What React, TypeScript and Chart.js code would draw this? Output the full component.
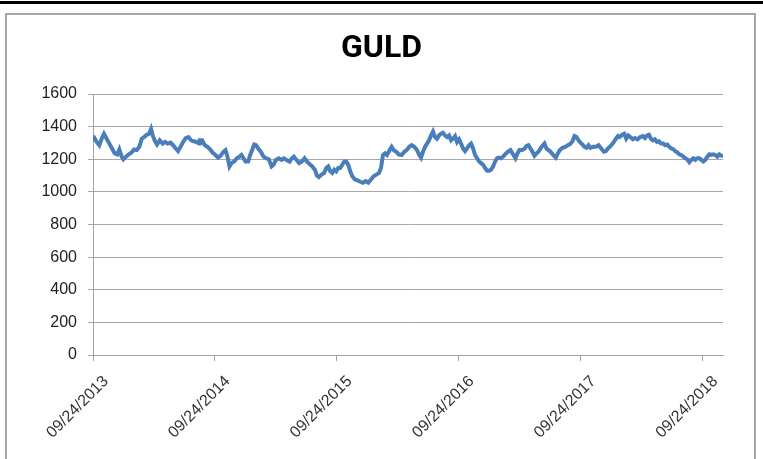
import React, { useEffect, useRef } from "react";
import { Chart, registerables } from "chart.js";

Chart.register(...registerables);

// Trading-day offsets (days since 09/24/2013) and gold price values
const dayOffsets: number[] = [
  0, 3, 11, 19, 26, 33, 41, 49, 57, 65, 73, 79, 86, 91, 99, 107, 115, 123, 131, 139,
  146, 153, 161, 168, 174, 179, 186, 192, 200, 209, 216, 224, 232, 240, 248, 255, 262, 270, 278, 286,
  294, 302, 310, 318, 320, 327, 335, 343, 351, 359, 367, 375, 383, 391, 397, 403, 409, 415, 423, 431,
  439, 445, 451, 457, 465, 471, 477, 483, 489, 495, 503, 511, 519, 527, 535, 541, 548, 557, 565, 572,
  580, 589, 596, 602, 610, 618, 626, 634, 641, 649, 657, 665, 671, 677, 685, 693, 699, 705, 711, 717,
  723, 729, 735, 741, 747, 753, 759, 765, 771, 777, 785, 793, 801, 809, 817, 825, 833, 841, 849, 857,
  863, 869, 875, 881, 889, 895, 901, 909, 916, 925, 933, 940, 948, 955, 963, 971, 978, 983, 989, 995,
  1001, 1007, 1013, 1019, 1025, 1031, 1037, 1043, 1049, 1055, 1061, 1067, 1073, 1079, 1085, 1091, 1097, 1103, 1109, 1115,
  1121, 1127, 1133, 1139, 1145, 1151, 1157, 1163, 1169, 1175, 1181, 1187, 1193, 1199, 1205, 1211, 1217, 1223, 1229, 1235,
  1243, 1251, 1260, 1266, 1272, 1278, 1286, 1294, 1299, 1305, 1311, 1317, 1323, 1329, 1335, 1341, 1347, 1353, 1359, 1365,
  1371, 1379, 1387, 1393, 1399, 1407, 1415, 1423, 1431, 1437, 1443, 1449, 1455, 1461, 1467, 1473, 1479, 1485, 1491, 1499,
  1507, 1515, 1523, 1531, 1537, 1543, 1549, 1555, 1561, 1567, 1573, 1578, 1586, 1592, 1598, 1604, 1610, 1618, 1624, 1632,
  1640, 1648, 1654, 1660, 1666, 1672, 1678, 1684, 1690, 1696, 1702, 1709, 1715, 1721, 1727, 1733, 1739, 1745, 1751, 1757,
  1763, 1769, 1775, 1781, 1787, 1793, 1799, 1805, 1811, 1817, 1823, 1829, 1835, 1841, 1847, 1853, 1859, 1865, 1871, 1877,
  1883, 1888,
];

const goldPrices: number[] = [
  1340, 1336, 1306, 1286, 1326, 1356, 1326, 1296, 1266, 1236, 1230, 1260, 1216, 1200, 1216, 1230, 1240, 1260, 1256, 1276,
  1326, 1336, 1350, 1356, 1386, 1346, 1310, 1290, 1316, 1296, 1306, 1296, 1302, 1286, 1266, 1250, 1276, 1306, 1330, 1336,
  1316, 1310, 1306, 1296, 1316, 1316, 1286, 1276, 1260, 1240, 1226, 1210, 1222, 1246, 1256, 1216, 1156, 1176, 1186, 1206,
  1216, 1226, 1206, 1186, 1186, 1226, 1256, 1290, 1286, 1266, 1246, 1216, 1206, 1200, 1156, 1166, 1196, 1206, 1196, 1206,
  1196, 1186, 1206, 1216, 1196, 1176, 1186, 1206, 1186, 1170, 1156, 1136, 1100, 1090, 1106, 1116, 1146, 1156, 1126, 1116,
  1136, 1126, 1146, 1146, 1166, 1186, 1186, 1166, 1126, 1096, 1076, 1070, 1062, 1056, 1066, 1056, 1076, 1096, 1106, 1116,
  1146, 1226, 1236, 1226, 1256, 1276, 1256, 1246, 1230, 1226, 1246, 1256, 1276, 1286, 1276, 1256, 1226, 1210, 1246, 1276,
  1296, 1316, 1346, 1370, 1336, 1326, 1346, 1356, 1362, 1346, 1336, 1346, 1316, 1326, 1342, 1306, 1322, 1296, 1266, 1250,
  1266, 1286, 1296, 1266, 1226, 1206, 1186, 1176, 1166, 1146, 1130, 1130, 1136, 1156, 1186, 1206, 1210, 1206, 1216, 1230,
  1246, 1256, 1226, 1206, 1236, 1256, 1256, 1266, 1282, 1286, 1266, 1246, 1222, 1236, 1246, 1266, 1282, 1296, 1266, 1256,
  1246, 1226, 1210, 1236, 1256, 1270, 1276, 1286, 1296, 1310, 1342, 1336, 1316, 1302, 1290, 1276, 1270, 1286, 1270, 1276,
  1276, 1286, 1266, 1246, 1250, 1266, 1276, 1290, 1306, 1326, 1342, 1336, 1350, 1356, 1326, 1346, 1336, 1322, 1330, 1322,
  1336, 1342, 1330, 1346, 1350, 1326, 1316, 1322, 1306, 1310, 1296, 1296, 1286, 1290, 1276, 1266, 1262, 1250, 1242, 1230,
  1226, 1216, 1206, 1200, 1182, 1196, 1206, 1196, 1206, 1206, 1196, 1186, 1196, 1216, 1230, 1226, 1230, 1226, 1216, 1230,
  1222, 1216,
];

// Axis tick labels (x ticks at these day offsets)
const xTickDays: number[] = [0, 365, 730, 1096, 1461, 1826];
const xTickLabels: string[] = ["09/24/2013", "09/24/2014", "09/24/2015", "09/24/2016", "09/24/2017", "09/24/2018"];
const xMaxDay = 1888;
const yMin = 0;
const yMax = 1600;
const yStep = 200;
const chartTitle = "GULD";

export default function App() {
  const canvasRef = useRef<HTMLCanvasElement | null>(null);

  useEffect(() => {
    if (!canvasRef.current) return;
    const points = dayOffsets.map((d, i) => ({ x: d, y: goldPrices[i] }));
    const font = "'Liberation Sans', Arial, sans-serif";
    const chart = new Chart(canvasRef.current, {
      type: "line",
      data: {
        datasets: [
          {
            label: chartTitle,
            data: points,
            borderColor: "#4A7EBB",
            backgroundColor: "#4A7EBB",
            borderWidth: 4,
            pointRadius: 0,
            tension: 0,
          },
        ],
      },
      options: {
        animation: false,
        responsive: false,
        maintainAspectRatio: false,
        layout: { padding: { left: 0, right: 0, top: 0, bottom: 0 } },
        plugins: {
          legend: { display: false },
          tooltip: { enabled: false },
          title: {
            display: true,
            text: chartTitle,
            color: "#000",
            font: { family: "Roboto, 'Liberation Sans', sans-serif", size: 32, weight: "bold", lineHeight: 1.2 },
            padding: { top: 30, bottom: 25.6 },
          },
        },
        scales: {
          x: {
            type: "linear",
            min: 0,
            max: xMaxDay,
            afterBuildTicks: (scale: any) => {
              scale.ticks = xTickDays.map((v) => ({ value: v }));
            },
            afterFit: (scale: any) => {
              scale.height = 104;
            },
            ticks: {
              autoSkip: false,
              maxRotation: 45,
              minRotation: 45,
              color: "#333",
              padding: 11,
              labelOffset: 13,
              font: { family: font, size: 16 },
              callback: (value: any) => {
                const idx = xTickDays.indexOf(Number(value));
                return idx >= 0 ? xTickLabels[idx] : "";
              },
            },
            grid: {
              drawOnChartArea: false,
              drawTicks: true,
              tickLength: 6,
              color: "#a0a0a0",
            },
            border: { display: true, color: "#a0a0a0", width: 1 },
          },
          y: {
            min: yMin,
            max: yMax,
            afterFit: (scale: any) => {
              scale.width = 93;
            },
            ticks: {
              stepSize: yStep,
              color: "#222",
              padding: 11,
              font: { family: font, size: 16 },
              callback: (value: any) => String(value),
            },
            grid: {
              color: "#a8a8a8",
              tickLength: 5,
              lineWidth: 1,
            },
            border: { display: true, color: "#a0a0a0", width: 1 },
          },
          yRightSpacer: {
            type: "linear",
            position: "right",
            display: true,
            afterFit: (scale: any) => {
              scale.width = 40;
            },
            ticks: { display: false },
            grid: { display: false, drawTicks: false },
            border: { display: false },
          },
        },
      },
    });
    return () => chart.destroy();
  }, []);

  return (
    <div style={{ position: "absolute", left: 0, top: 0, width: 763, height: 459, overflow: "hidden", background: "#fff" }}>
      <div style={{ position: "absolute", left: 0, top: 1, width: 763, height: 3, background: "#000" }} />
      <div
        style={{
          position: "absolute",
          left: 5,
          top: 13,
          width: 751,
          height: 470,
          border: "2px solid #a6a6a6",
          boxSizing: "border-box",
        }}
      />
      <canvas ref={canvasRef} width={763} height={459} style={{ position: "absolute", left: 0, top: 0, width: 763, height: 459 }} />
    </div>
  );
}
